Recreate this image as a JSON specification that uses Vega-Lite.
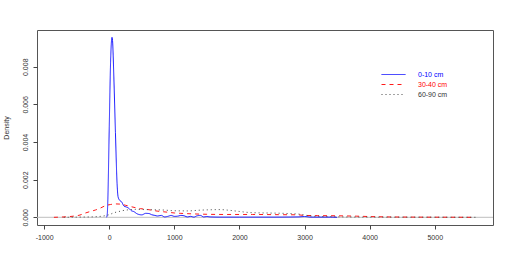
{
  "$schema": "https://vega.github.io/schema/vega-lite/v6.json",
  "width": 456,
  "height": 195,
  "autosize": "none",
  "padding": {"left": 37, "top": 30, "right": 19, "bottom": 38},
  "background": "white",
  "config": {
    "view": {"stroke": "#555555", "strokeWidth": 1},
    "font": "Liberation Sans",
    "axis": {"grid": false, "labelFont": "Liberation Sans", "titleFont": "Liberation Sans", "labelFontSize": 7, "titleFontSize": 7, "labelColor": "#333", "titleColor": "#333", "tickColor": "#444", "domain": false, "titleFontWeight": "normal"}
  },
  "layer": [
    {
      "data": {"values": [{"z": 0}]},
      "mark": {"type": "rule", "color": "#bebebe", "strokeWidth": 1},
      "encoding": {"y": {"field": "z", "type": "quantitative", "scale": {"domain": [-0.000409, 0.00995]}}}
    },
    {
      "data": {"values": [
        {"series": "0-10 cm", "x": -40, "y": 0},
        {"series": "0-10 cm", "x": -30, "y": 0.0002},
        {"series": "0-10 cm", "x": -22, "y": 0.0009},
        {"series": "0-10 cm", "x": 0, "y": 0.0048},
        {"series": "0-10 cm", "x": 20, "y": 0.0082},
        {"series": "0-10 cm", "x": 35, "y": 0.0094},
        {"series": "0-10 cm", "x": 42, "y": 0.00956},
        {"series": "0-10 cm", "x": 50, "y": 0.0094},
        {"series": "0-10 cm", "x": 70, "y": 0.0075},
        {"series": "0-10 cm", "x": 95, "y": 0.0045},
        {"series": "0-10 cm", "x": 120, "y": 0.0018},
        {"series": "0-10 cm", "x": 135, "y": 0.0011},
        {"series": "0-10 cm", "x": 160, "y": 0.0009},
        {"series": "0-10 cm", "x": 190, "y": 0.00082},
        {"series": "0-10 cm", "x": 225, "y": 0.0006},
        {"series": "0-10 cm", "x": 260, "y": 0.00055},
        {"series": "0-10 cm", "x": 300, "y": 0.00048},
        {"series": "0-10 cm", "x": 340, "y": 0.00035},
        {"series": "0-10 cm", "x": 380, "y": 0.0003},
        {"series": "0-10 cm", "x": 420, "y": 0.0002},
        {"series": "0-10 cm", "x": 455, "y": 0.00015},
        {"series": "0-10 cm", "x": 500, "y": 0.00013},
        {"series": "0-10 cm", "x": 560, "y": 0.00021},
        {"series": "0-10 cm", "x": 610, "y": 0.0002},
        {"series": "0-10 cm", "x": 650, "y": 0.00014},
        {"series": "0-10 cm", "x": 700, "y": 0.0001},
        {"series": "0-10 cm", "x": 740, "y": 0.00007},
        {"series": "0-10 cm", "x": 800, "y": 0.0001},
        {"series": "0-10 cm", "x": 850, "y": 0.00002},
        {"series": "0-10 cm", "x": 900, "y": 0.00005},
        {"series": "0-10 cm", "x": 950, "y": 0.0001},
        {"series": "0-10 cm", "x": 1000, "y": 0.00005},
        {"series": "0-10 cm", "x": 1050, "y": 0.00006},
        {"series": "0-10 cm", "x": 1100, "y": 0.0001},
        {"series": "0-10 cm", "x": 1150, "y": 0.00008},
        {"series": "0-10 cm", "x": 1200, "y": 0.00002},
        {"series": "0-10 cm", "x": 1250, "y": 0.00005},
        {"series": "0-10 cm", "x": 1300, "y": 0.00001},
        {"series": "0-10 cm", "x": 1350, "y": 0.00008},
        {"series": "0-10 cm", "x": 1400, "y": 0.0001},
        {"series": "0-10 cm", "x": 1450, "y": 0.00002},
        {"series": "0-10 cm", "x": 1500, "y": 0.00004},
        {"series": "0-10 cm", "x": 1550, "y": 0.00002},
        {"series": "0-10 cm", "x": 1700, "y": 0.00001},
        {"series": "0-10 cm", "x": 2000, "y": 0.00001},
        {"series": "0-10 cm", "x": 2500, "y": 0.00001},
        {"series": "0-10 cm", "x": 2900, "y": 0.00002},
        {"series": "0-10 cm", "x": 3000, "y": 0.00004},
        {"series": "0-10 cm", "x": 3100, "y": 0.00001},
        {"series": "0-10 cm", "x": 3400, "y": 0.00001},
        {"series": "0-10 cm", "x": 3500, "y": 0},
        {"series": "30-40 cm", "x": -850, "y": 0},
        {"series": "30-40 cm", "x": -700, "y": 0.00002},
        {"series": "30-40 cm", "x": -550, "y": 0.00006},
        {"series": "30-40 cm", "x": -450, "y": 0.00012},
        {"series": "30-40 cm", "x": -390, "y": 0.0002},
        {"series": "30-40 cm", "x": -300, "y": 0.0003},
        {"series": "30-40 cm", "x": -210, "y": 0.00039},
        {"series": "30-40 cm", "x": -130, "y": 0.0005},
        {"series": "30-40 cm", "x": -57, "y": 0.00062},
        {"series": "30-40 cm", "x": 20, "y": 0.00068},
        {"series": "30-40 cm", "x": 96, "y": 0.00071},
        {"series": "30-40 cm", "x": 170, "y": 0.0007},
        {"series": "30-40 cm", "x": 250, "y": 0.00064},
        {"series": "30-40 cm", "x": 330, "y": 0.00057},
        {"series": "30-40 cm", "x": 403, "y": 0.00051},
        {"series": "30-40 cm", "x": 480, "y": 0.00046},
        {"series": "30-40 cm", "x": 557, "y": 0.00043},
        {"series": "30-40 cm", "x": 650, "y": 0.00038},
        {"series": "30-40 cm", "x": 736, "y": 0.00033},
        {"series": "30-40 cm", "x": 813, "y": 0.0003},
        {"series": "30-40 cm", "x": 900, "y": 0.00027},
        {"series": "30-40 cm", "x": 1000, "y": 0.00023},
        {"series": "30-40 cm", "x": 1100, "y": 0.00021},
        {"series": "30-40 cm", "x": 1300, "y": 0.00018},
        {"series": "30-40 cm", "x": 1500, "y": 0.00016},
        {"series": "30-40 cm", "x": 1800, "y": 0.00015},
        {"series": "30-40 cm", "x": 2200, "y": 0.00015},
        {"series": "30-40 cm", "x": 2600, "y": 0.00014},
        {"series": "30-40 cm", "x": 2900, "y": 0.00013},
        {"series": "30-40 cm", "x": 3000, "y": 0.0001},
        {"series": "30-40 cm", "x": 3200, "y": 0.00009},
        {"series": "30-40 cm", "x": 3500, "y": 0.00008},
        {"series": "30-40 cm", "x": 3800, "y": 0.00006},
        {"series": "30-40 cm", "x": 4000, "y": 0.00004},
        {"series": "30-40 cm", "x": 4300, "y": 0.00002},
        {"series": "30-40 cm", "x": 4700, "y": 0.00001},
        {"series": "30-40 cm", "x": 5200, "y": 0.000005},
        {"series": "30-40 cm", "x": 5600, "y": 0},
        {"series": "60-90 cm", "x": -700, "y": 0},
        {"series": "60-90 cm", "x": -500, "y": 0.00001},
        {"series": "60-90 cm", "x": -300, "y": 0.00002},
        {"series": "60-90 cm", "x": -210, "y": 0.00003},
        {"series": "60-90 cm", "x": -57, "y": 0.00009},
        {"series": "60-90 cm", "x": 0, "y": 0.00014},
        {"series": "60-90 cm", "x": 71, "y": 0.00024},
        {"series": "60-90 cm", "x": 140, "y": 0.0003},
        {"series": "60-90 cm", "x": 199, "y": 0.00035},
        {"series": "60-90 cm", "x": 300, "y": 0.0004},
        {"series": "60-90 cm", "x": 403, "y": 0.00042},
        {"series": "60-90 cm", "x": 550, "y": 0.00041},
        {"series": "60-90 cm", "x": 700, "y": 0.0004},
        {"series": "60-90 cm", "x": 813, "y": 0.00039},
        {"series": "60-90 cm", "x": 991, "y": 0.00035},
        {"series": "60-90 cm", "x": 1200, "y": 0.00034},
        {"series": "60-90 cm", "x": 1400, "y": 0.00038},
        {"series": "60-90 cm", "x": 1550, "y": 0.0004},
        {"series": "60-90 cm", "x": 1700, "y": 0.00041},
        {"series": "60-90 cm", "x": 1850, "y": 0.00037},
        {"series": "60-90 cm", "x": 2000, "y": 0.00031},
        {"series": "60-90 cm", "x": 2170, "y": 0.00025},
        {"series": "60-90 cm", "x": 2400, "y": 0.00023},
        {"series": "60-90 cm", "x": 2680, "y": 0.00021},
        {"series": "60-90 cm", "x": 2935, "y": 0.00016},
        {"series": "60-90 cm", "x": 3090, "y": 0.00007},
        {"series": "60-90 cm", "x": 3300, "y": 0.00004},
        {"series": "60-90 cm", "x": 3600, "y": 0.00002},
        {"series": "60-90 cm", "x": 4000, "y": 0.00001},
        {"series": "60-90 cm", "x": 5000, "y": 0.000005},
        {"series": "60-90 cm", "x": 5630, "y": 0}
      ]},
      "mark": {"type": "line", "strokeWidth": 0.9, "interpolate": "monotone"},
      "encoding": {
        "x": {"field": "x", "type": "quantitative", "scale": {"domain": [-1110, 5895], "nice": false, "zero": false},
              "axis": {"values": [-1000, 0, 1000, 2000, 3000, 4000, 5000], "labelExpr": "'' + datum.value", "title": null, "tickSize": 4, "labelPadding": 4}},
        "y": {"field": "y", "type": "quantitative", "scale": {"domain": [-0.000409, 0.00995], "nice": false, "zero": false},
              "axis": {"values": [0, 0.002, 0.004, 0.006, 0.008], "format": ".3f", "title": "Density", "labelAngle": -90, "labelAlign": "center", "labelBaseline": "bottom", "tickSize": 4, "labelPadding": 5, "titlePadding": 12}},
        "color": {"field": "series", "type": "nominal",
                  "scale": {"domain": ["0-10 cm", "30-40 cm", "60-90 cm"], "range": ["#0000ff", "#ff0000", "#333333"]},
                  "legend": {"orient": "none", "legendX": 353, "legendY": 41, "title": null, "padding": 0,
                             "symbolType": "M-6,0H6", "symbolSize": 16, "symbolStrokeWidth": 0.9, "symbolFillColor": "transparent",
                             "labelFont": "Liberation Sans", "labelFontSize": 7, "labelOffset": 21, "rowPadding": 2,
                             "labelColor": {"expr": "datum.label == '0-10 cm' ? '#0000ff' : datum.label == '30-40 cm' ? '#ff0000' : '#333333'"}}},
        "strokeDash": {"field": "series", "type": "nominal",
                       "scale": {"domain": ["0-10 cm", "30-40 cm", "60-90 cm"], "range": [[1, 0], [4, 4], [1, 3]]}}
      }
    }
  ]
}
